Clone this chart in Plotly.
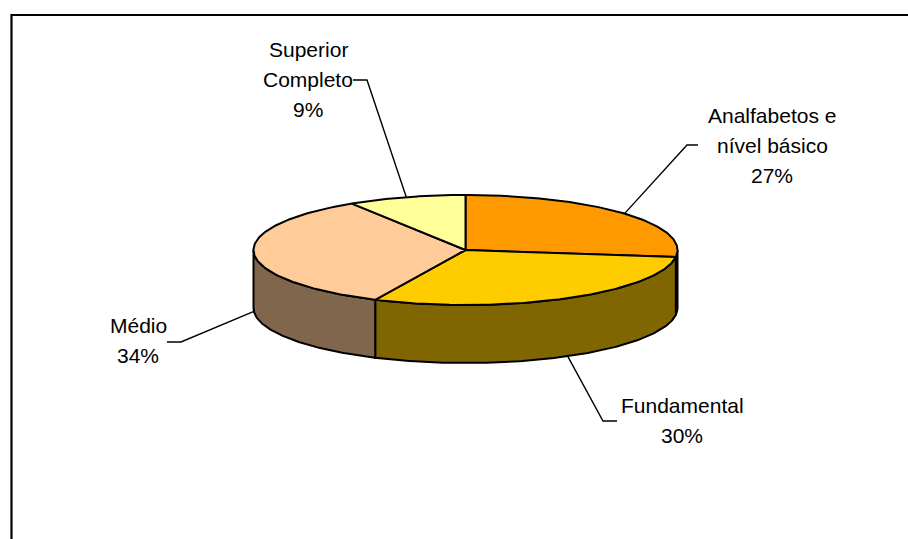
import numpy as np
import plotly.graph_objects as go

# ---- data ----
categories = ["Analfabetos e nível básico", "Fundamental", "Médio", "Superior Completo"]
label_lines = [["Analfabetos e", "nível básico"], ["Fundamental"], ["Médio"], ["Superior", "Completo"]]
values = [27, 30, 34, 9]
top_colors = ["#FF9900", "#FFCC00", "#FFCC99", "#FFFF99"]
side_colors = ["#804C00", "#806600", "#80664C", "#80804C"]

# ---- layout / style constants ----
W, H = 908, 539
CX, CY, RX, RY, DEPTH = 465.5, 250, 212, 55, 58
FONT = "Liberation Sans, Arial, sans-serif"
FS = 21
LINE_GAP = 30
# label block anchor (center x, first line y) and leader elbow (x, y, horizontal end x)
label_pos = [(772, 115), (682, 405), (138, 325), (308, 49)]
elbows = [(687, 145, 698), (603, 421, 617), (181, 342, 167), (367, 80, 353)]


def pt(theta_deg, dy=0.0):
    t = np.radians(theta_deg)
    return CX + RX * np.sin(t), CY - RY * np.cos(t) + dy


def arc(a, b, dy=0.0, n=120):
    th = np.linspace(a, b, n)
    xs, ys = pt(th, dy)
    return list(xs), list(ys)


fig = go.Figure()
total = sum(values)
bounds = []
acc = 0.0
for v in values:
    a = acc / total * 360
    acc += v
    b = acc / total * 360
    bounds.append((a, b))

# side walls (visible front half: 90..270 deg)
for i, (a, b) in enumerate(bounds):
    lo, hi = max(a, 90), min(b, 270)
    if hi <= lo:
        continue
    xt, yt = arc(lo, hi)
    xb, yb = arc(hi, lo, DEPTH)
    fig.add_trace(go.Scatter(x=xt + xb + [xt[0]], y=yt + yb + [yt[0]], mode="lines",
                             fill="toself", fillcolor=side_colors[i],
                             line=dict(color="black", width=2),
                             hoverinfo="skip", showlegend=False))

# top faces
for i, (a, b) in enumerate(bounds):
    xa, ya = arc(a, b)
    fig.add_trace(go.Scatter(x=[CX] + xa + [CX], y=[CY] + ya + [CY], mode="lines",
                             fill="toself", fillcolor=top_colors[i],
                             line=dict(color="black", width=2),
                             hoverinfo="text", text=categories[i], showlegend=False))

# leader lines and labels
annotations = []
for i, (a, b) in enumerate(bounds):
    mid = (a + b) / 2
    front = 90 < (mid % 360) < 270
    px, py = pt(mid, DEPTH if front else 0)
    ex, ey, hx = elbows[i]
    fig.add_trace(go.Scatter(x=[px, ex, hx], y=[py, ey, ey], mode="lines",
                             line=dict(color="black", width=1.4),
                             hoverinfo="skip", showlegend=False))
    lines = label_lines[i] + [f"{values[i] / total * 100:.0f}%"]
    lx, ly = label_pos[i]
    for k, s in enumerate(lines):
        annotations.append(dict(x=lx, y=ly + k * LINE_GAP, text=s, showarrow=False,
                                xanchor="center", yanchor="middle",
                                font=dict(family=FONT, size=FS, color="black")))

shapes = [
    dict(type="line", xref="paper", yref="paper", x0=11.5 / W, x1=1.01, y0=1 - 15 / H, y1=1 - 15 / H,
         line=dict(color="black", width=2.2)),
    dict(type="line", xref="paper", yref="paper", x0=11.5 / W, x1=11.5 / W, y0=1 - 14 / H, y1=-0.01,
         line=dict(color="black", width=2.2)),
]

fig.update_layout(
    width=W, height=H, margin=dict(l=0, r=0, t=0, b=0),
    paper_bgcolor="white", plot_bgcolor="white",
    xaxis=dict(range=[0, W], visible=False, fixedrange=True),
    yaxis=dict(range=[H, 0], visible=False, fixedrange=True),
    annotations=annotations, shapes=shapes,
)

fig.write_html("out.html")
